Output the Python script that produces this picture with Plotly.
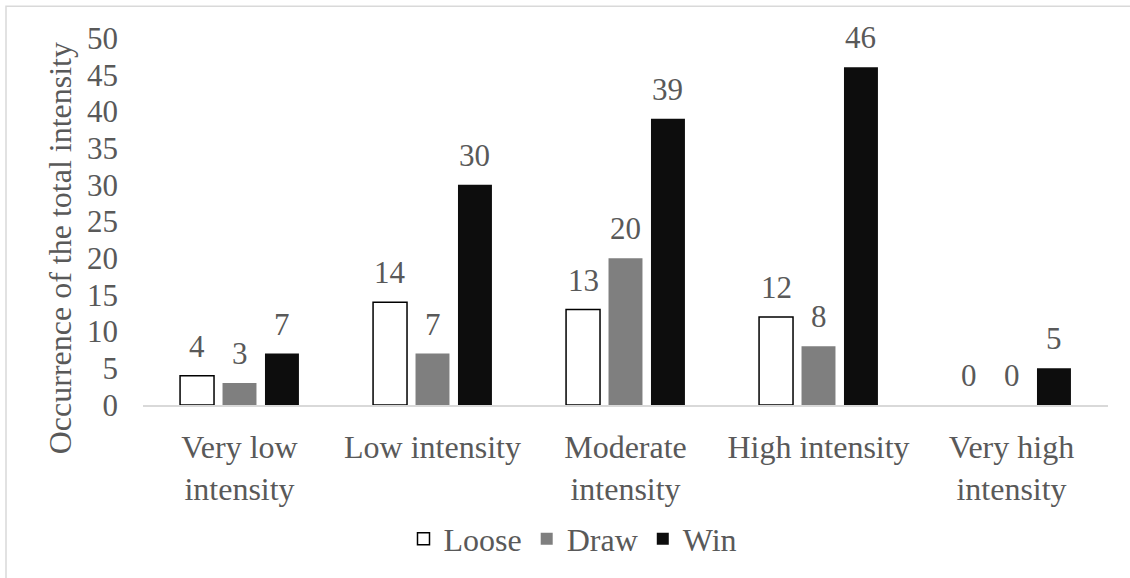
import plotly.graph_objects as go

categories = ["Very low<br>intensity", "Low intensity", "Moderate<br>intensity",
              "High intensity", "Very high<br>intensity"]
loose = [4, 14, 13, 12, 0]
draw = [3, 7, 20, 8, 0]
win = [7, 30, 39, 46, 5]
series_names = ["Loose", "Draw", "Win"]
y_ticks = [0, 5, 10, 15, 20, 25, 30, 35, 40, 45, 50]

FONT = "Liberation Serif"
TXT = "#595959"
W, H = 1130, 578
L, R, T, B = 143, 22, 38, 170
PW, PH = W - L - R, H - T - B
FS = 31   # numbers
FT = 32   # words

fig = go.Figure()
fills = ["#ffffff", "#7f7f7f", "#0d0d0d"]
for i, (name, vals, fc) in enumerate(zip(series_names, [loose, draw, win], fills)):
    if i == 0:
        ln = dict(color="#000000", width=[1.5 if v > 0 else 0 for v in vals])
    else:
        ln = dict(width=0)
    fig.add_trace(go.Bar(name=name, x=categories, y=vals,
                         marker=dict(color=fc, line=ln)))

# data labels
slot = PW / len(categories) * (1 - 0.34) / 3
annotations = []
for i, vals in enumerate([loose, draw, win]):
    for c, v in zip(categories, vals):
        annotations.append(dict(x=c, y=v, xref="x", yref="y", text=str(v),
                                showarrow=False, yanchor="bottom",
                                xshift=(i - 1) * slot, yshift=10,
                                font=dict(family=FONT, size=FS, color=TXT)))
# y axis title
annotations.append(dict(x=(60 - L) / PW, y=(H - B - 250) / PH, xref="paper", yref="paper",
                        text="Occurrence of the total intensity", textangle=-90,
                        showarrow=False, xanchor="center", yanchor="middle",
                        font=dict(family=FONT, size=FT, color=TXT)))

shapes = [dict(type="rect", xref="paper", yref="paper",
               x0=(6 - L) / PW, x1=(W + 20 - L) / PW,
               y0=(H - B - (H + 20)) / PH, y1=(H - B - 6) / PH,
               line=dict(color="#d9d9d9", width=1.5), fillcolor="rgba(0,0,0,0)", layer="below")]

fig.update_layout(
    width=W, height=H,
    margin=dict(l=L, r=R, t=T, b=B),
    paper_bgcolor="white", plot_bgcolor="white",
    barmode="group", bargap=0.34, bargroupgap=0.2,
    font=dict(family=FONT, size=FT, color=TXT),
    showlegend=True,
    legend=dict(orientation="h", x=(573 - L) / PW, y=(H - B - 543) / PH,
                xanchor="center", yanchor="middle",
                font=dict(family=FONT, size=FT, color=TXT),
                traceorder="normal", tracegroupgap=0),
    annotations=annotations,
    shapes=shapes,
)
fig.update_xaxes(showline=True, linecolor="#d9d9d9", linewidth=1.5, showgrid=False,
                 ticks="", ticklabelstandoff=13, tickfont=dict(family=FONT, size=FT, color=TXT))
fig.update_yaxes(range=[0, 50], tickvals=y_ticks, showgrid=False, zeroline=False,
                 showline=False, ticks="", ticklabelstandoff=24,
                 tickfont=dict(family=FONT, size=FS, color=TXT))

fig.write_html("out.html", config={"displayModeBar": False},
               post_script="document.body.style.margin='0';")
